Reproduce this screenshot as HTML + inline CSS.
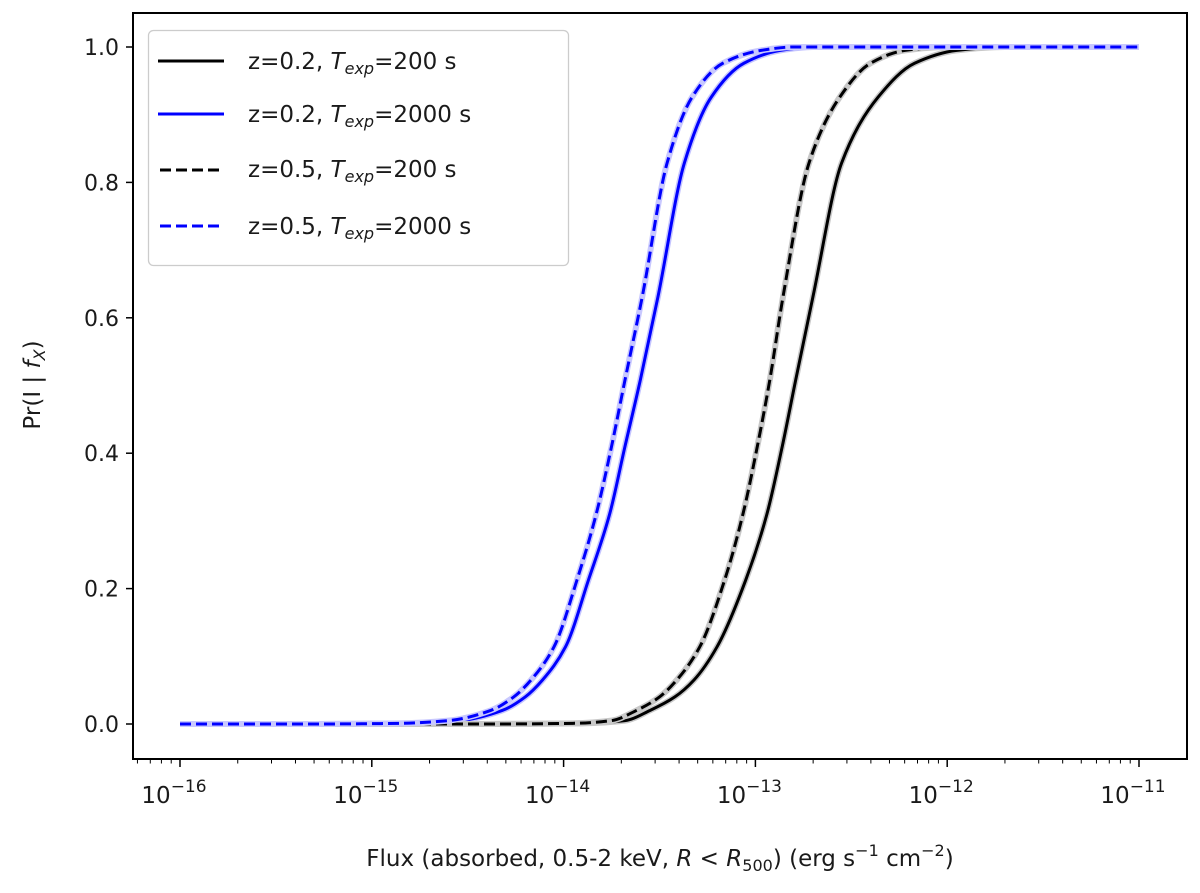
<!DOCTYPE html>
<html><head><meta charset="utf-8"><style>
body{margin:0;background:#fff;}
svg text{font-family:"DejaVu Sans","Liberation Sans",sans-serif;fill:#1a1a1a;}
</style></head><body>
<svg id="chart" width="1200" height="888" xmlns="http://www.w3.org/2000/svg">
<rect x="0" y="0" width="1200" height="888" fill="#fff"/>
<g id="plot"></g>
<g id="axes"></g>
<text x="660" y="866" font-size="23" text-anchor="middle">Flux (absorbed, 0.5-2 keV, <tspan font-style="italic">R</tspan> &lt; <tspan font-style="italic">R</tspan><tspan font-size="16" dy="5">500</tspan><tspan dy="-5">) (erg s</tspan><tspan font-size="16" dy="-10">−1</tspan><tspan dy="10"> cm</tspan><tspan font-size="16" dy="-10">−2</tspan><tspan dy="10">)</tspan></text>
<text transform="translate(40,385) rotate(-90)" font-size="23" text-anchor="middle">Pr(I | <tspan font-style="italic">f</tspan><tspan font-style="italic" font-size="16" dy="5">X</tspan><tspan dy="-5">)</tspan></text>
<g>
<rect x="148.5" y="30.5" width="420" height="235" rx="5" fill="#fff" fill-opacity="0.9" stroke="#ccc" stroke-width="1.3"/>
<g><line x1="158" y1="61" x2="224" y2="61" stroke="#000" stroke-width="3"/><text x="248" y="69" font-size="23">z=0.2, <tspan font-style="italic">T</tspan><tspan font-style="italic" font-size="16" dy="5">exp</tspan><tspan dy="-5">=200 s</tspan></text></g>
<g><line x1="158" y1="114" x2="224" y2="114" stroke="#0000ff" stroke-width="3"/><text x="248" y="122" font-size="23">z=0.2, <tspan font-style="italic">T</tspan><tspan font-style="italic" font-size="16" dy="5">exp</tspan><tspan dy="-5">=2000 s</tspan></text></g>
<g><line x1="160" y1="170" x2="224" y2="170" stroke="#000" stroke-width="3" stroke-dasharray="11,5"/><text x="248" y="177" font-size="23">z=0.5, <tspan font-style="italic">T</tspan><tspan font-style="italic" font-size="16" dy="5">exp</tspan><tspan dy="-5">=200 s</tspan></text></g>
<g><line x1="160" y1="226" x2="224" y2="226" stroke="#0000ff" stroke-width="3" stroke-dasharray="11,5"/><text x="248" y="234" font-size="23">z=0.5, <tspan font-style="italic">T</tspan><tspan font-style="italic" font-size="16" dy="5">exp</tspan><tspan dy="-5">=2000 s</tspan></text></g>
</g>
</svg>
<script>
const z02_200_flux = [-16,-14.4,-13.9,-13.68,-13.55,-13.42,-13.32,-13.20,-13.05,-12.94,-12.86,-12.79,-12.70,-12.55,-12.36,-12.17,-11.95,-11.7,-11];
const z02_200_prob = [0,0,0.001,0.005,0.02,0.04,0.065,0.114,0.213,0.31,0.41,0.508,0.631,0.829,0.926,0.976,0.995,1,1];
const z02_2000_flux = [-16,-15.3,-14.8,-14.54,-14.32,-14.20,-14.11,-13.99,-13.87,-13.76,-13.68,-13.60,-13.508,-13.37,-13.23,-13.06,-12.87,-12.7,-11];
const z02_2000_prob = [0,0,0.001,0.005,0.02,0.04,0.065,0.114,0.213,0.31,0.41,0.508,0.631,0.829,0.926,0.976,0.995,1,1];
const z05_200_flux = [-16,-14.4,-13.95,-13.75,-13.62,-13.50,-13.41,-13.29,-13.16,-13.065,-12.99,-12.925,-12.856,-12.72,-12.56,-12.40,-12.22,-12.0,-11];
const z05_200_prob = [0,0,0.001,0.005,0.02,0.04,0.065,0.114,0.213,0.31,0.41,0.508,0.631,0.829,0.926,0.976,0.995,1,1];
const z05_2000_flux = [-16,-15.3,-14.85,-14.60,-14.38,-14.26,-14.17,-14.05,-13.93,-13.83,-13.75,-13.68,-13.59,-13.46,-13.33,-13.17,-12.97,-12.8,-11];
const z05_2000_prob = [0,0,0.001,0.005,0.02,0.04,0.065,0.114,0.213,0.31,0.41,0.508,0.631,0.829,0.926,0.976,0.995,1,1];
const xTickExps = [-16,-15,-14,-13,-12,-11];
const yTicks = [0,0.2,0.4,0.6,0.8,1.0];

const NS="http://www.w3.org/2000/svg";
const L=133,R=1187,T=13,B=759;
function xs(lf){return 180+(lf+16)*191.8;}
function ys(p){return 724-p*677;}
const plot=document.getElementById('plot'), axes=document.getElementById('axes');
function mk(tag,attrs,parent){const e=document.createElementNS(NS,tag);for(const k in attrs)e.setAttribute(k,attrs[k]);parent.appendChild(e);return e;}
function pathFor(fl,pr){
  const X=fl.map(xs),Y=pr.map(ys),n=X.length;
  const d=[],m=new Array(n);
  for(let i=0;i<n-1;i++)d.push((Y[i+1]-Y[i])/(X[i+1]-X[i]));
  m[0]=d[0];m[n-1]=d[n-2];
  for(let i=1;i<n-1;i++){
    if(d[i-1]*d[i]<=0)m[i]=0;
    else{const w1=2*(X[i+1]-X[i])+(X[i]-X[i-1]),w2=(X[i+1]-X[i])+2*(X[i]-X[i-1]);m[i]=(w1+w2)/(w1/d[i-1]+w2/d[i]);}
  }
  let s='M'+X[0].toFixed(2)+','+Y[0].toFixed(2);
  for(let i=0;i<n-1;i++){
    const h=X[i+1]-X[i];
    s+=' C'+(X[i]+h/3).toFixed(2)+','+(Y[i]+m[i]*h/3).toFixed(2)+' '+(X[i+1]-h/3).toFixed(2)+','+(Y[i+1]-m[i+1]*h/3).toFixed(2)+' '+X[i+1].toFixed(2)+','+Y[i+1].toFixed(2);
  }
  return s;
}
const series=[
 {f:z02_200_flux,v:z02_200_prob,c:'#000',u:'#c8c8c8',dash:null,n:'line-z02-200s'},
 {f:z02_2000_flux,v:z02_2000_prob,c:'#0000ff',u:'#c4c4ff',dash:null,n:'line-z02-2000s'},
 {f:z05_200_flux,v:z05_200_prob,c:'#000',u:'#c8c8c8',dash:'11,5',n:'line-z05-200s'},
 {f:z05_2000_flux,v:z05_2000_prob,c:'#0000ff',u:'#c8c8ff',dash:'11,5',n:'line-z05-2000s'}
];
series.forEach(s=>{
  const d=pathFor(s.f,s.v);
  const band=mk('path',{d:d,fill:'none',stroke:s.u,'stroke-width':6},plot);
  
  
  const a={d:d,fill:'none',stroke:s.c,'stroke-width':3};
  if(s.dash)a['stroke-dasharray']=s.dash;
  const ln=mk('path',a,plot);
  
  
});
const frame=mk('rect',{x:L,y:T,width:R-L,height:B-T,fill:'none',stroke:'#000','stroke-width':2},axes);


yTicks.forEach(t=>{
  const y=ys(t);
  mk('line',{x1:L-7,y1:y,x2:L,y2:y,stroke:'#000','stroke-width':1.5},axes);
  const tx=mk('text',{x:L-14,y:y+8,'font-size':22,'text-anchor':'end'},axes);
  tx.textContent=t.toFixed(1);
  
  
});
for(let e=-17;e<=-11;e++){
  for(let m=1;m<10;m++){
    const lf=e+Math.log10(m);const x=xs(lf);
    if(x<L||x>R)continue;
    mk('line',{x1:x,y1:B,x2:x,y2:B+(m===1?8:4.5),stroke:'#000','stroke-width':m===1?1.5:1},axes);
  }
}
xTickExps.forEach(e=>{
  const x=xs(e);
  const tx=mk('text',{x:x-6,y:B+44,'font-size':23,'text-anchor':'middle'},axes);
  
  
  const a=document.createElementNS(NS,'tspan');a.textContent='10';tx.appendChild(a);
  const b=document.createElementNS(NS,'tspan');b.setAttribute('dy','-11');b.setAttribute('font-size','17');b.textContent='−'+Math.abs(e);tx.appendChild(b);
});
</script>
</body></html>
